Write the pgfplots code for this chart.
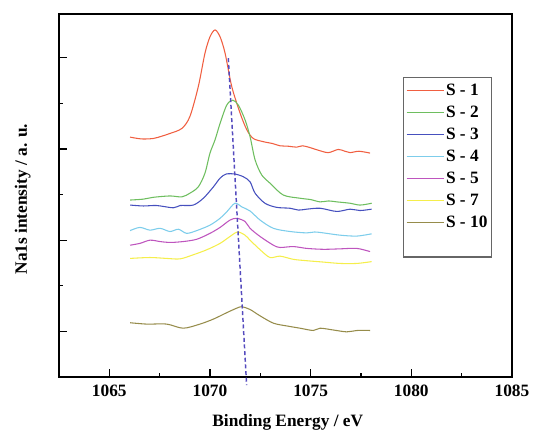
\documentclass[border=0pt]{standalone}
\usepackage{pgfplots}
\pgfplotsset{compat=1.18}
\usepackage{fontspec}
\setmainfont{Liberation Serif}

\definecolor{cA}{RGB}{240,95,65}
\definecolor{cB}{RGB}{110,190,95}
\definecolor{cC}{RGB}{70,80,190}
\definecolor{cD}{RGB}{125,205,235}
\definecolor{cE}{RGB}{190,85,190}
\definecolor{cF}{RGB}{245,238,75}
\definecolor{cG}{RGB}{150,140,75}
\definecolor{cdash}{RGB}{85,75,190}

\begin{document}
\begin{tikzpicture}
\begin{axis}[scale only axis,width=339.75pt,height=272.25pt,
  xmin=1062.5,xmax=1085,ymin=0,ymax=7.96,clip=false,
  axis line style={line width=1pt},
  xtick={1065,1070,1075,1080,1085},minor xtick={1067.5,1072.5,1077.5,1082.5},
  ytick={1,3,5,7},minor ytick={2,4,6},yticklabels={},
  xtick pos=left,ytick pos=left,tick align=inside,
  major tick length=6pt,minor tick length=3pt,
  every tick/.style={black,line width=0.8pt},
  /pgf/number format/assume math mode=true,
  /pgf/number format/1000 sep={},
  xticklabel style={font=\bfseries\fontsize{13}{15}\selectfont,yshift=-2.5pt},
  xlabel={Binding Energy / eV},ylabel={Na1s intensity / a. u.},
  every axis x label/.style={at={(axis description cs:0.505,-0.124)},anchor=center,font=\bfseries\fontsize{13}{15}\selectfont},
  every axis y label/.style={at={(axis description cs:-0.08,0.49)},rotate=90,anchor=center,font=\bfseries\fontsize{13}{15}\selectfont},
  legend style={at={(axis description cs:0.759,0.826)},anchor=north west,draw=black!60,line width=0.8pt,
    font=\bfseries\fontsize{13}{15}\selectfont,row sep=1.5pt,inner sep=2pt,
    nodes={inner sep=1pt,text height=10pt,text depth=3pt}},
  legend cell align=left,
  legend image code/.code={\draw[#1,line width=1pt](0pt,0pt)--(28pt,0pt);},
  every axis plot/.append style={line width=0.8pt,smooth,tension=0.5}]
\addplot[cA] coordinates {(1066.03,5.26)(1066.6,5.22)(1067.18,5.23)(1067.6,5.28)(1068.01,5.34)(1068.6,5.45)(1069.0,5.71)(1069.42,6.37)(1069.75,7.10)(1070.0,7.46)(1070.25,7.61)(1070.5,7.46)(1070.75,7.10)(1071.08,6.37)(1071.5,5.78)(1071.83,5.42)(1072.15,5.23)(1072.65,5.16)(1073.1,5.12)(1073.48,5.07)(1073.9,5.06)(1074.3,5.04)(1074.6,5.07)(1074.97,5.03)(1075.4,4.97)(1075.88,4.92)(1076.37,4.99)(1076.7,4.95)(1076.96,4.92)(1077.4,4.95)(1077.95,4.91)};
\addlegendentry{S - 1}
\addplot[cB] coordinates {(1066.03,3.88)(1066.69,3.90)(1067.18,3.94)(1068.01,3.97)(1068.6,3.95)(1069.0,4.03)(1069.42,4.17)(1069.75,4.47)(1070.0,4.91)(1070.25,5.20)(1070.5,5.56)(1070.83,5.96)(1071.13,6.07)(1071.41,5.96)(1071.74,5.64)(1071.99,5.27)(1072.24,4.76)(1072.57,4.43)(1072.98,4.25)(1073.64,3.99)(1074.47,3.92)(1075.0,3.89)(1075.47,3.84)(1075.9,3.86)(1076.3,3.84)(1076.96,3.81)(1077.45,3.77)(1078.03,3.81)};
\addlegendentry{S - 2}
\addplot[cC] coordinates {(1066.03,3.77)(1066.69,3.75)(1067.35,3.76)(1068.18,3.71)(1068.51,3.76)(1069.17,3.77)(1069.67,3.92)(1070.17,4.17)(1070.5,4.36)(1070.8,4.45)(1071.24,4.45)(1071.66,4.39)(1071.99,4.28)(1072.24,4.03)(1072.73,3.81)(1073.31,3.72)(1073.98,3.70)(1074.4,3.66)(1074.8,3.68)(1075.47,3.70)(1076.3,3.63)(1076.96,3.68)(1077.45,3.65)(1078.03,3.68)};
\addlegendentry{S - 3}
\addplot[cD] coordinates {(1066.03,3.21)(1066.52,3.28)(1067.02,3.22)(1067.52,3.26)(1068.01,3.19)(1068.43,3.24)(1068.84,3.15)(1069.34,3.21)(1070.0,3.33)(1070.5,3.48)(1070.83,3.62)(1071.24,3.81)(1071.58,3.73)(1071.99,3.64)(1072.49,3.44)(1073.15,3.26)(1073.98,3.19)(1074.8,3.16)(1075.2,3.18)(1075.63,3.16)(1076.46,3.11)(1077.29,3.09)(1078.03,3.14)};
\addlegendentry{S - 4}
\addplot[cE] coordinates {(1066.03,2.89)(1066.52,2.93)(1067.02,3.00)(1067.52,2.97)(1068.01,2.95)(1068.67,2.97)(1069.34,3.02)(1070.0,3.15)(1070.5,3.28)(1070.99,3.44)(1071.33,3.48)(1071.74,3.41)(1071.99,3.26)(1072.49,3.08)(1073.15,2.89)(1073.48,2.84)(1074.14,2.86)(1074.8,2.82)(1075.63,2.80)(1076.46,2.81)(1077.29,2.82)(1077.95,2.75)};
\addlegendentry{S - 5}
\addplot[cF] coordinates {(1066.03,2.60)(1067.02,2.62)(1067.85,2.60)(1068.51,2.59)(1069.17,2.68)(1069.84,2.79)(1070.5,2.93)(1070.99,3.08)(1071.37,3.18)(1071.74,3.11)(1071.99,3.00)(1072.49,2.79)(1072.98,2.62)(1073.48,2.65)(1074.14,2.58)(1074.8,2.55)(1075.63,2.52)(1076.46,2.49)(1077.29,2.49)(1078.03,2.53)};
\addlegendentry{S - 7}
\addplot[cG] coordinates {(1066.03,1.19)(1066.86,1.16)(1067.85,1.16)(1068.67,1.07)(1069.5,1.16)(1070.17,1.27)(1070.83,1.41)(1071.33,1.51)(1071.58,1.54)(1071.99,1.48)(1072.49,1.34)(1073.15,1.18)(1073.81,1.12)(1074.47,1.07)(1075.13,1.02)(1075.47,1.07)(1076.13,1.03)(1076.79,0.99)(1077.3,1.02)(1077.95,1.02)};
\addlegendentry{S - 10}
\addlegendimage{empty legend}\addlegendentry{}
\addplot[cdash,line width=1.1pt,dash pattern=on 3pt off 2pt,forget plot,sharp plot] coordinates {(1070.91,6.99)(1071.82,-0.18)};
\end{axis}
\pgfresetboundingbox
\path[use as bounding box] (-44.25pt,-40.5pt) rectangle (355.5pt,282.75pt);
\end{tikzpicture}
\end{document}
